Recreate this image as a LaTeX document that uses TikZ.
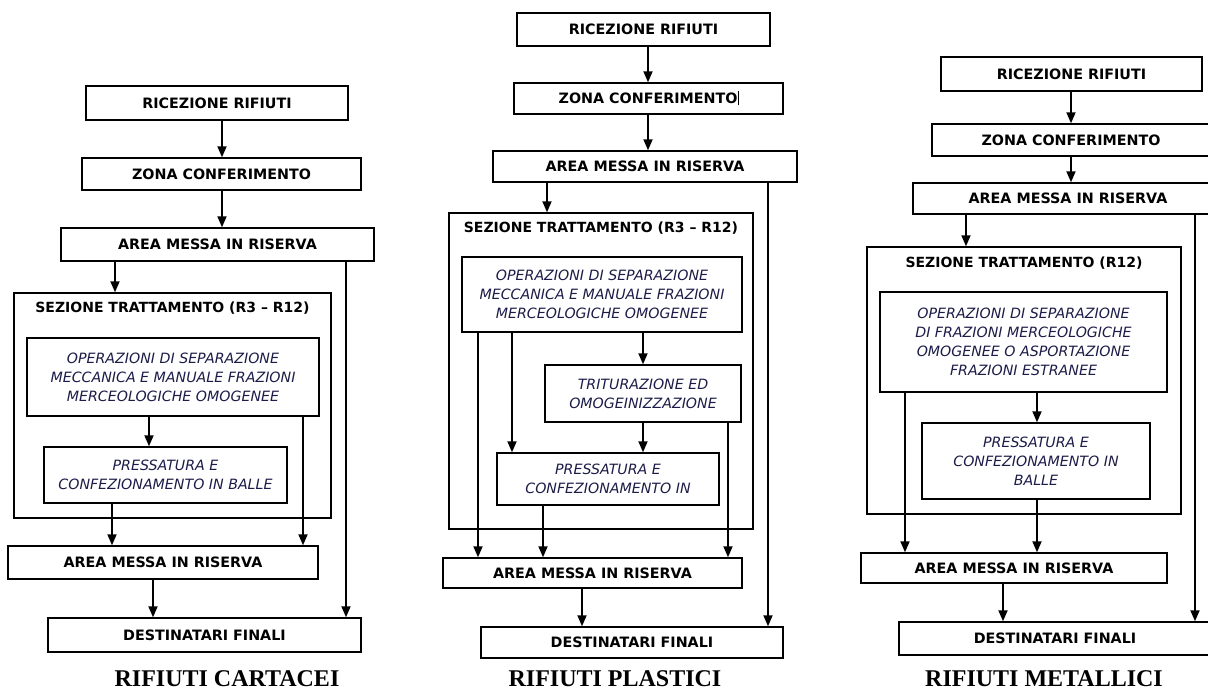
\documentclass[tikz,border=0pt]{standalone}
\usepackage{fontspec}
\setsansfont{DejaVu Sans}
\setmainfont{Liberation Serif}
\usetikzlibrary{arrows.meta, positioning}
\definecolor{opblue}{RGB}{28,28,72}

\begin{document}
\begin{tikzpicture}[x=1pt, y=-1pt,
    stepbox/.style={rectangle, draw, line width=1.4pt, inner sep=0pt, align=center, font=\sffamily\bfseries\fontsize{14.3}{17}\selectfont},
    opbox/.style={rectangle, draw, line width=1.4pt, inner sep=0pt, align=center, text=opblue, font=\sffamily\itshape\fontsize{14.2}{19}\selectfont},
    secbox/.style={rectangle, draw, line width=1.4pt, inner sep=0pt},
    sectitle/.style={font=\sffamily\bfseries\fontsize{14}{17}\selectfont},
    coltitle/.style={font=\rmfamily\bfseries\fontsize{24}{27}\selectfont},
    arr/.style={-{Triangle[length=11pt, width=9pt]}, line width=1.8pt}
]
\useasboundingbox (0,0) rectangle (1208,690);
\clip (0,0) rectangle (1208,690);

% Rifiuti cartacei
\node[stepbox, minimum width=262pt, minimum height=34pt] (ric1) at (217,103) {RICEZIONE RIFIUTI};
\node[stepbox, minimum width=279pt, minimum height=32pt] (zon1) at (221.5,174) {ZONA CONFERIMENTO};
\node[stepbox, minimum width=313pt, minimum height=33pt] (are1) at (217.5,244.5) {AREA MESSA IN RISERVA};
\node[secbox, minimum width=317pt, minimum height=225pt] (sez1) at (172.5,405.5) {};
\node[sectitle] (sez1t) at (172.5,308) {SEZIONE TRATTAMENTO (R3 – R12)};
\node[opbox, minimum width=292pt, minimum height=78pt] (ope1) at (173,377) {OPERAZIONI DI SEPARAZIONE\\MECCANICA E MANUALE FRAZIONI\\MERCEOLOGICHE OMOGENEE};
\node[opbox, minimum width=243pt, minimum height=56pt] (pre1) at (165.5,475) {PRESSATURA E\\CONFEZIONAMENTO IN BALLE};
\node[stepbox, minimum width=310pt, minimum height=33pt] (are1b) at (163,562.5) {AREA MESSA IN RISERVA};
\node[stepbox, minimum width=313pt, minimum height=34pt] (des1) at (204.5,635) {DESTINATARI FINALI};
\node[coltitle] (tit1) at (227,679) {RIFIUTI CARTACEI};

\draw[arr] ([xshift=5pt]ric1.south) -- ([xshift=5pt]ric1.south |- zon1.north);
\draw[arr] ([xshift=0.5pt]zon1.south) -- ([xshift=0.5pt]zon1.south |- are1.north);
\draw[arr] ([xshift=-102.5pt]are1.south) -- ([xshift=-102.5pt]are1.south |- sez1.north);
\draw[arr] ([xshift=128.5pt]are1.south) -- ([xshift=128.5pt]are1.south |- des1.north);
\draw[arr] ([xshift=-24pt]ope1.south) -- ([xshift=-24pt]ope1.south |- pre1.north);
\draw[arr] ([xshift=130pt]ope1.south) -- ([xshift=130pt]ope1.south |- are1b.north);
\draw[arr] ([xshift=-53.5pt]pre1.south) -- ([xshift=-53.5pt]pre1.south |- are1b.north);
\draw[arr] ([xshift=-10pt]are1b.south) -- ([xshift=-10pt]are1b.south |- des1.north);

% Rifiuti plastici
\node[stepbox, minimum width=253pt, minimum height=33pt] (ric2) at (643.5,29.5) {RICEZIONE RIFIUTI};
\node[stepbox, minimum width=269pt, minimum height=31pt] (zon2) at (648.5,98.5) {ZONA CONFERIMENTO\rule[-2pt]{0.8pt}{14pt}};
\node[stepbox, minimum width=304pt, minimum height=31pt] (are2) at (645,166.5) {AREA MESSA IN RISERVA};
\node[secbox, minimum width=304pt, minimum height=316pt] (sez2) at (601,371) {};
\node[sectitle] (sez2t) at (601,228) {SEZIONE TRATTAMENTO (R3 – R12)};
\node[opbox, minimum width=280pt, minimum height=75pt] (ope2) at (602,294.5) {OPERAZIONI DI SEPARAZIONE\\MECCANICA E MANUALE FRAZIONI\\MERCEOLOGICHE OMOGENEE};
\node[opbox, minimum width=196pt, minimum height=57pt] (tri2) at (643,393.5) {TRITURAZIONE ED\\OMOGEINIZZAZIONE};
\node[opbox, minimum width=222pt, minimum height=52pt] (pre2) at (608,479) {PRESSATURA E\\CONFEZIONAMENTO IN};
\node[stepbox, minimum width=299pt, minimum height=30pt] (are2b) at (592.5,573) {AREA MESSA IN RISERVA};
\node[stepbox, minimum width=302pt, minimum height=31pt] (des2) at (632,642.5) {DESTINATARI FINALI};
\node[coltitle] (tit2) at (615,679) {RIFIUTI PLASTICI};

\draw[arr] ([xshift=4.5pt]ric2.south) -- ([xshift=4.5pt]ric2.south |- zon2.north);
\draw[arr] ([xshift=-0.5pt]zon2.south) -- ([xshift=-0.5pt]zon2.south |- are2.north);
\draw[arr] ([xshift=-98pt]are2.south) -- ([xshift=-98pt]are2.south |- sez2.north);
\draw[arr] ([xshift=123pt]are2.south) -- ([xshift=123pt]are2.south |- des2.north);
\draw[arr] ([xshift=-124pt]ope2.south) -- ([xshift=-124pt]ope2.south |- are2b.north);
\draw[arr] ([xshift=-90pt]ope2.south) -- ([xshift=-90pt]ope2.south |- pre2.north);
\draw[arr] ([xshift=41pt]ope2.south) -- ([xshift=41pt]ope2.south |- tri2.north);
\draw[arr] (tri2.south) -- (tri2.south |- pre2.north);
\draw[arr] ([xshift=85pt]tri2.south) -- ([xshift=85pt]tri2.south |- are2b.north);
\draw[arr] ([xshift=-65pt]pre2.south) -- ([xshift=-65pt]pre2.south |- are2b.north);
\draw[arr] ([xshift=-10.5pt]are2b.south) -- ([xshift=-10.5pt]are2b.south |- des2.north);

% Rifiuti metallici
\node[stepbox, minimum width=261pt, minimum height=34pt] (ric3) at (1071.5,74) {RICEZIONE RIFIUTI};
\node[stepbox, minimum width=278pt, minimum height=32pt] (zon3) at (1071,140) {ZONA CONFERIMENTO};
\node[stepbox, minimum width=310pt, minimum height=31pt] (are3) at (1068,198.5) {AREA MESSA IN RISERVA};
\node[secbox, minimum width=314pt, minimum height=267pt] (sez3) at (1024,380.5) {};
\node[sectitle] (sez3t) at (1024,263) {SEZIONE TRATTAMENTO (R12)};
\node[opbox, minimum width=287pt, minimum height=100pt] (ope3) at (1023.5,342) {OPERAZIONI DI SEPARAZIONE\\DI FRAZIONI MERCEOLOGICHE\\OMOGENEE O ASPORTAZIONE\\FRAZIONI ESTRANEE};
\node[opbox, minimum width=228pt, minimum height=76pt] (pre3) at (1036,461) {PRESSATURA E\\CONFEZIONAMENTO IN\\BALLE};
\node[stepbox, minimum width=306pt, minimum height=30pt] (are3b) at (1014,568) {AREA MESSA IN RISERVA};
\node[stepbox, minimum width=312pt, minimum height=33pt] (des3) at (1055,638.5) {DESTINATARI FINALI};
\node[coltitle] (tit3) at (1044,679) {RIFIUTI METALLICI};

\draw[arr] ([xshift=-0.5pt]ric3.south) -- ([xshift=-0.5pt]ric3.south |- zon3.north);
\draw[arr] (zon3.south) -- (zon3.south |- are3.north);
\draw[arr] ([xshift=-102pt]are3.south) -- ([xshift=-102pt]are3.south |- sez3.north);
\draw[arr] ([xshift=127pt]are3.south) -- ([xshift=127pt]are3.south |- des3.north);
\draw[arr] ([xshift=-118.5pt]ope3.south) -- ([xshift=-118.5pt]ope3.south |- are3b.north);
\draw[arr] ([xshift=13.5pt]ope3.south) -- ([xshift=13.5pt]ope3.south |- pre3.north);
\draw[arr] ([xshift=1pt]pre3.south) -- ([xshift=1pt]pre3.south |- are3b.north);
\draw[arr] ([xshift=-11pt]are3b.south) -- ([xshift=-11pt]are3b.south |- des3.north);

\end{tikzpicture}
\end{document}
